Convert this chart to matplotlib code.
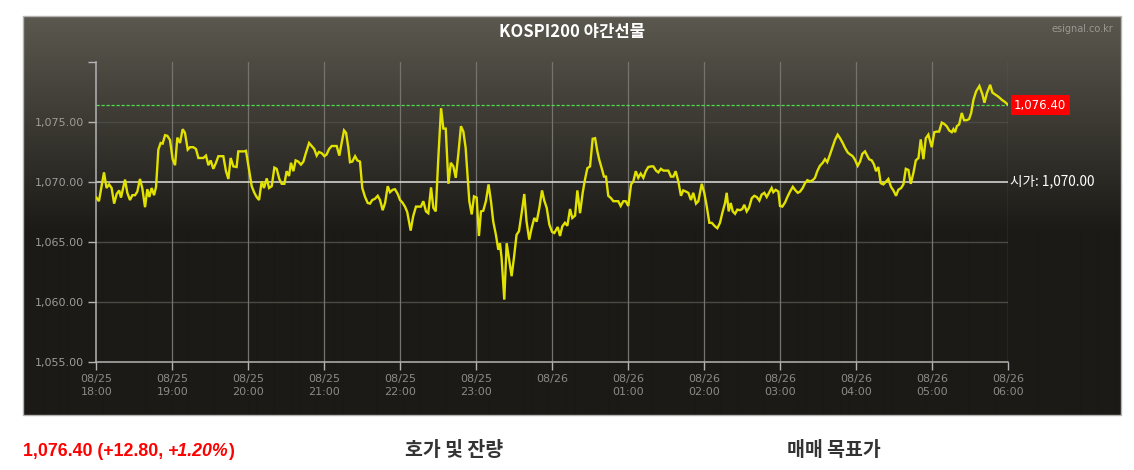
import numpy as np
import matplotlib
matplotlib.use("Agg")
import matplotlib.pyplot as plt
from matplotlib.patches import Rectangle

# ---------------- data ----------------
title = "KOSPI200 야간선물"
watermark = "esignal.co.kr"
open_price = 1070.00
last_price = 1076.40
change_text = "1,076.40 (+12.80, "
change_pct = "+1.20%"
section_titles = ["호가 및 잔량", "매매 목표가"]

# minutes after 08/25 18:00
minutes = [
    0, 2, 6, 8, 10, 12, 14, 16, 18, 19.4, 22.6, 24.4, 26.5, 28.4, 30.5, 32.3, 34.4, 36.2, 38.4, 40.2,
    41.8, 43.6, 45.5, 47.1, 48.9, 50.7, 52.3, 54.2, 56.0, 58.1, 60.2, 62.1, 63.9, 66.0, 68.1, 69.9,
    72.1, 73.9, 76.5, 78.6, 80.5, 82.6, 84.4, 86.5, 88.4, 90.2, 92.3, 94.4, 96.3, 98.9, 100.2, 102.3,
    104.2, 106.0, 108.1, 110.7, 112.0, 114.7, 116.5, 118.1,
    120.5, 122.6, 124.7, 126.5, 128.4, 130.5, 132.3, 134.5, 136.3, 138.4, 140.5, 142.3, 144.4, 146.3,
    148.4, 150.2, 152.1, 153.6, 155.5, 157.3, 159.4, 161.5, 163.4, 165.2, 167.9, 170.0, 172.0, 173.9,
    175.7, 177.9, 180.0, 181.8, 183.7, 185.8, 187.8, 189.7, 191.8, 193.6, 195.5, 197.1, 198.9, 200.2,
    202.0, 204.2, 206.0, 208.1, 209.9, 212.1, 214.2, 216.0, 217.8, 219.9, 222.1, 223.9, 226.0, 227.9,
    230.0, 231.8, 233.9, 235.7, 237.9, 239.7, 241.5, 243.6,
    245.4, 248.1, 250.1, 252.3, 254.1, 256.2, 258.1, 260.2, 262.0, 264.2, 266.0, 267.9, 270.0, 272.1,
    273.9, 275.8, 277.9, 279.8, 281.8, 283.7, 285.7, 287.8, 289.7, 291.5, 293.1, 294.4, 296.3, 298.1,
    300.2, 302.0, 303.6, 305.4, 307.5, 309.6, 311.5, 313.3, 315.4, 317.3, 318.6, 319.9, 322.0, 323.9,
    325.7, 327.8, 329.6, 331.7, 333.6, 335.7, 337.8, 339.6, 341.7, 343.6, 345.7, 347.6, 349.7, 351.8,
    353.6, 355.5, 357.6, 359.7, 361.5,
    364.2, 366.0, 367.8, 369.9, 371.8, 373.9, 375.7, 377.9, 379.7, 381.8, 383.9, 385.7, 387.6, 389.7,
    391.8, 393.7, 395.5, 397.0, 398.9, 400.7, 402.3, 404.1, 406.3, 408.1, 410.2, 412.0, 413.9, 416.0,
    417.9, 419.9, 422.1, 423.9, 425.8, 427.8, 429.7, 431.8, 433.7, 435.7, 437.9, 439.7, 441.8, 443.6,
    445.7, 447.6, 449.7, 451.5, 453.6, 455.5, 457.3, 459.4, 461.5, 463.3, 465.5, 467.3, 469.4, 471.2,
    473.4, 475.2, 477.9, 479.9, 481.8, 483.9, 485.8,
    488.4, 490.2, 492.3, 494.1, 496.3, 497.6, 499.2, 500.8, 502.4, 504.2, 506.0, 508.1, 509.9, 511.5,
    513.4, 515.2, 517.4, 519.4, 521.3, 523.4, 525.2, 527.3, 529.2, 531.3, 533.1, 534.4, 536.3, 538.4,
    539.7, 541.5, 543.7, 545.5, 547.6, 549.8, 551.5, 553.7, 555.5, 557.6, 559.4, 561.3, 563.4, 565.5,
    567.3, 569.1, 571.2, 573.4, 575.2, 577.0, 579.2, 581.3, 583.1, 585.2, 587.1, 589.2, 591.0, 593.2,
    595.0, 597.1, 598.9, 601.0, 602.9, 604.7, 606.8,
    610.0, 612.1, 613.9, 615.5, 617.3, 619.2, 621.3, 623.1, 625.2, 627.3, 629.2, 631.3, 633.1, 635.3,
    637.1, 639.0, 641.1, 642.9, 645.0, 646.9, 649.0, 650.8, 652.9, 654.8, 656.8, 658.2, 659.5, 661.5,
    663.4, 665.3, 667.4, 669.2, 671.3, 673.2, 675.3, 676.6, 677.9, 679.3, 681.1, 683.2, 685.0, 687.1,
    689.0, 690.6, 692.4, 694.5, 697.1, 699.5, 701.1, 703.0, 705.6, 707.4, 709.5, 712.2, 714.8, 717.5,
    720.0,
]
prices = [
    1068.7, 1068.4, 1070.8, 1069.5, 1069.8, 1069.5, 1068.2, 1069.0, 1069.3, 1068.7, 1070.2, 1069.1,
    1068.5, 1068.9, 1068.9, 1069.2, 1070.25, 1069.5, 1067.9, 1069.4, 1068.75, 1069.5, 1068.9, 1069.6,
    1072.7, 1073.25, 1073.2, 1073.9, 1073.85, 1073.5, 1071.9, 1071.4, 1073.7, 1073.25, 1074.4, 1074.1,
    1072.7, 1072.9, 1072.9, 1072.75, 1072.0, 1072.0, 1072.0, 1072.2, 1071.4, 1071.8, 1071.1, 1071.6,
    1072.15, 1072.15, 1072.15, 1070.9, 1070.25, 1072.0, 1071.3, 1071.25, 1072.55, 1072.55, 1072.55,
    1072.6,
    1071.0, 1069.65, 1069.1, 1068.75, 1068.5, 1070.05, 1069.5, 1070.3, 1069.5, 1069.65, 1071.2, 1071.1,
    1070.25, 1069.85, 1069.85, 1070.9, 1070.5, 1071.6, 1070.9, 1071.8, 1071.7, 1071.45, 1071.7, 1072.35,
    1073.25, 1073.0, 1072.75, 1072.2, 1072.5, 1072.4, 1072.15, 1072.3, 1072.75, 1073.0, 1073.0, 1073.0,
    1072.2, 1073.25, 1074.3, 1074.1, 1072.85, 1071.65, 1071.7, 1072.15, 1071.8, 1071.7, 1069.5, 1068.75,
    1068.25, 1068.2, 1068.5, 1068.6, 1068.85, 1068.5, 1067.65, 1068.25, 1069.65, 1069.15, 1069.35,
    1069.4, 1069.0, 1068.5, 1068.3, 1067.95,
    1067.5, 1065.95, 1067.15, 1067.95, 1067.95, 1067.95, 1068.4, 1067.55, 1067.4, 1069.55, 1067.85,
    1067.55, 1072.15, 1076.15, 1074.45, 1074.45, 1069.85, 1071.6, 1071.3, 1070.35, 1072.3, 1074.65,
    1074.2, 1072.85, 1070.35, 1068.4, 1067.3, 1068.8, 1068.7, 1065.5, 1067.55, 1067.6, 1068.4, 1069.8,
    1068.4, 1066.7, 1065.6, 1064.35, 1064.9, 1063.65, 1060.2, 1064.9, 1063.65, 1062.15, 1063.65,
    1065.6, 1065.9, 1067.4, 1069.0, 1066.7, 1065.2, 1066.15, 1067.0, 1066.7, 1067.85, 1069.3, 1068.45,
    1067.85, 1066.45, 1065.85, 1065.75,
    1066.25, 1065.5, 1066.3, 1066.6, 1066.35, 1067.75, 1067.0, 1067.2, 1069.3, 1067.4, 1069.1, 1070.2,
    1071.15, 1071.3, 1073.6, 1073.65, 1072.55, 1071.85, 1071.15, 1070.45, 1070.45, 1068.85, 1068.65,
    1068.4, 1068.4, 1068.4, 1068.0, 1068.4, 1068.4, 1068.0, 1069.8, 1070.05, 1070.9, 1070.35, 1070.7,
    1070.35, 1070.9, 1071.25, 1071.3, 1071.3, 1070.95, 1070.8, 1071.1, 1070.95, 1070.95, 1070.95,
    1070.45, 1070.45, 1070.9, 1070.05, 1068.85, 1069.3, 1069.2, 1069.1, 1068.5, 1069.1, 1068.2, 1068.4,
    1069.85, 1069.1, 1068.0, 1066.6, 1066.6,
    1066.3, 1066.15, 1066.6, 1067.4, 1068.25, 1069.1, 1067.55, 1068.25, 1067.55, 1067.35, 1067.7,
    1067.65, 1067.75, 1068.1, 1067.55, 1067.85, 1068.65, 1068.85, 1068.75, 1068.45, 1068.95, 1069.1,
    1068.75, 1069.15, 1069.5, 1069.15, 1069.35, 1069.2, 1068.0, 1067.95, 1068.3, 1068.75, 1069.2,
    1069.6, 1069.35, 1069.1, 1069.2, 1069.5, 1069.9, 1070.15, 1070.05, 1070.15, 1070.35, 1070.9,
    1071.35, 1071.6, 1071.9, 1071.65, 1072.3, 1072.95, 1073.5, 1073.95, 1073.65, 1073.25, 1072.85,
    1072.45, 1072.3, 1072.15, 1071.85, 1071.35, 1071.7, 1072.35, 1072.55,
    1071.9, 1071.8, 1071.45, 1070.9, 1071.25, 1069.9, 1069.8, 1070.0, 1070.25, 1069.6, 1069.3, 1068.85,
    1069.35, 1069.5, 1069.8, 1071.1, 1071.0, 1069.85, 1070.75, 1071.8, 1072.0, 1073.55, 1071.9,
    1073.65, 1073.95, 1073.4, 1072.9, 1074.15, 1074.2, 1074.2, 1074.95, 1074.85, 1074.65, 1074.3,
    1074.15, 1074.4, 1074.15, 1074.65, 1074.8, 1075.75, 1075.15, 1075.15, 1075.25, 1075.75, 1076.85,
    1077.55, 1078.0, 1077.3, 1076.6, 1077.4, 1078.1, 1077.45, 1077.3, 1077.1, 1076.85, 1076.65,
    1076.4,
]

x_ticks = [0, 60, 120, 180, 240, 300, 360, 420, 480, 540, 600, 660, 720]
x_tick_labels = ["08/25\n18:00", "08/25\n19:00", "08/25\n20:00", "08/25\n21:00", "08/25\n22:00",
                 "08/25\n23:00", "08/26", "08/26\n01:00", "08/26\n02:00", "08/26\n03:00",
                 "08/26\n04:00", "08/26\n05:00", "08/26\n06:00"]
y_ticks = [1055, 1060, 1065, 1070, 1075, 1080]
y_tick_labels = ["1,055.00", "1,060.00", "1,065.00", "1,070.00", "1,075.00", ""]
grid_levels = [1060, 1065, 1075]

# ---------------- figure ----------------
W, H = 1134, 470
fig = plt.figure(figsize=(W / 100, H / 100), dpi=100, facecolor="white")

def fx(px):
    return px / W

def fy(py):
    return 1 - py / H

# chart box with gradient background
bx0, bx1, by0, by1 = 23, 1121, 16, 415
bg = fig.add_axes([fx(bx0), fy(by1), fx(bx1 - bx0), (by1 - by0) / H])
rows = np.arange(by1 - by0)
t = np.clip(rows / 215.0, 0, 1)[:, None]
top_c = np.array([0x5b, 0x58, 0x4f]) / 255
bot_c = np.array([0x1c, 0x1a, 0x16]) / 255
grad = top_c * (1 - t) + bot_c * t
img = np.repeat(grad[:, None, :], 2, axis=1)
bg.imshow(img, aspect="auto", extent=[0, 1, 0, 1], interpolation="bilinear")
bg.set_axis_off()
fig.patches.append(Rectangle((fx(bx0), fy(by1)), fx(bx1 - bx0), (by1 - by0) / H,
                             transform=fig.transFigure, fill=False, edgecolor="#b4b4b4",
                             linewidth=1.0, zorder=5))

# plot area
px0, px1, py0, py1 = 96.4, 1008.4, 62, 362
ax = fig.add_axes([fx(px0), fy(py1), fx(px1 - px0), (py1 - py0) / H])
ax.set_facecolor("none")
ax.set_xlim(x_ticks[0], x_ticks[-1])
ax.set_ylim(y_ticks[0], y_ticks[-1])

for lv in grid_levels:
    ax.axhline(lv, color="#4b4943", linewidth=1.0, zorder=1)
for xv in x_ticks[1:]:
    ax.axvline(xv, color="#74736e", linewidth=0.9, zorder=1)

ax.axhline(open_price, color="#d2d2d2", linewidth=1.2, zorder=2)
ax.axhline(last_price, color="#4ae04a", linewidth=0.9, dashes=(2.6, 1.4), zorder=2)
ax.plot(minutes, prices, color="#e2e200", linewidth=1.7, zorder=3, solid_joinstyle="miter")

for side in ["top", "right"]:
    ax.spines[side].set_visible(False)
for side in ["left", "bottom"]:
    ax.spines[side].set_color("#b4b4b4")
    ax.spines[side].set_linewidth(1.1)

ax.set_xticks(x_ticks)
ax.set_xticklabels(x_tick_labels, fontsize=8, color="#8a8a86", linespacing=1.3,
                   family="DejaVu Sans")
ax.set_yticks(y_ticks)
ax.set_yticklabels(y_tick_labels, fontsize=8, color="#9c9c98", family="DejaVu Sans")
ax.tick_params(axis="both", color="#b4b4b4", length=5.8, width=1.0)
ax.tick_params(axis="x", pad=3)
ax.tick_params(axis="y", pad=3)

# right side labels
ax.annotate("1,076.40", xy=(x_ticks[-1], last_price), xytext=(4.0, 0), textcoords="offset points",
            ha="left", va="center", color="white", fontsize=8.5, family="DejaVu Sans",
            annotation_clip=False,
            bbox=dict(boxstyle="square,pad=0.28", facecolor="#ff0000", edgecolor="none"))
ax.annotate("시가: 1,070.00", xy=(x_ticks[-1], open_price), xytext=(1.5, 0.5),
            textcoords="offset points", ha="left", va="center", color="white", fontsize=9.8,
            family=["Noto Sans CJK KR", "DejaVu Sans"], annotation_clip=False)

# title + watermark
fig.text(fx(572), fy(32), title, ha="center", va="center", color="white", fontsize=12,
         fontweight="bold", family=["Noto Sans CJK KR", "DejaVu Sans"])
fig.text(fx(1113), fy(29), watermark, ha="right", va="center", color="#9a9890", fontsize=7,
         family="DejaVu Sans")

# bottom texts
renderer = fig.canvas.get_renderer()
t1 = fig.text(fx(23), fy(451), change_text, ha="left", va="center", color="#ff0000",
              fontsize=12.8, fontweight="bold", family="Liberation Sans")
bb = t1.get_window_extent(renderer)
t2 = fig.text(bb.x1 / W, fy(451), change_pct, ha="left", va="center", color="#ff0000",
              fontsize=12.8, fontweight="bold", fontstyle="italic", family="Liberation Sans")
bb2 = t2.get_window_extent(renderer)
fig.text(bb2.x1 / W, fy(451), ")", ha="left", va="center", color="#ff0000",
         fontsize=12.8, fontweight="bold", family="Liberation Sans")

fig.text(fx(405), fy(450), section_titles[0], ha="left", va="center", color="#333333",
         fontsize=14, fontweight="bold", family=["Noto Sans CJK KR", "DejaVu Sans"])
fig.text(fx(787), fy(450), section_titles[1], ha="left", va="center", color="#333333",
         fontsize=14, fontweight="bold", family=["Noto Sans CJK KR", "DejaVu Sans"])

fig.savefig("out.png", dpi=100, facecolor="white")
